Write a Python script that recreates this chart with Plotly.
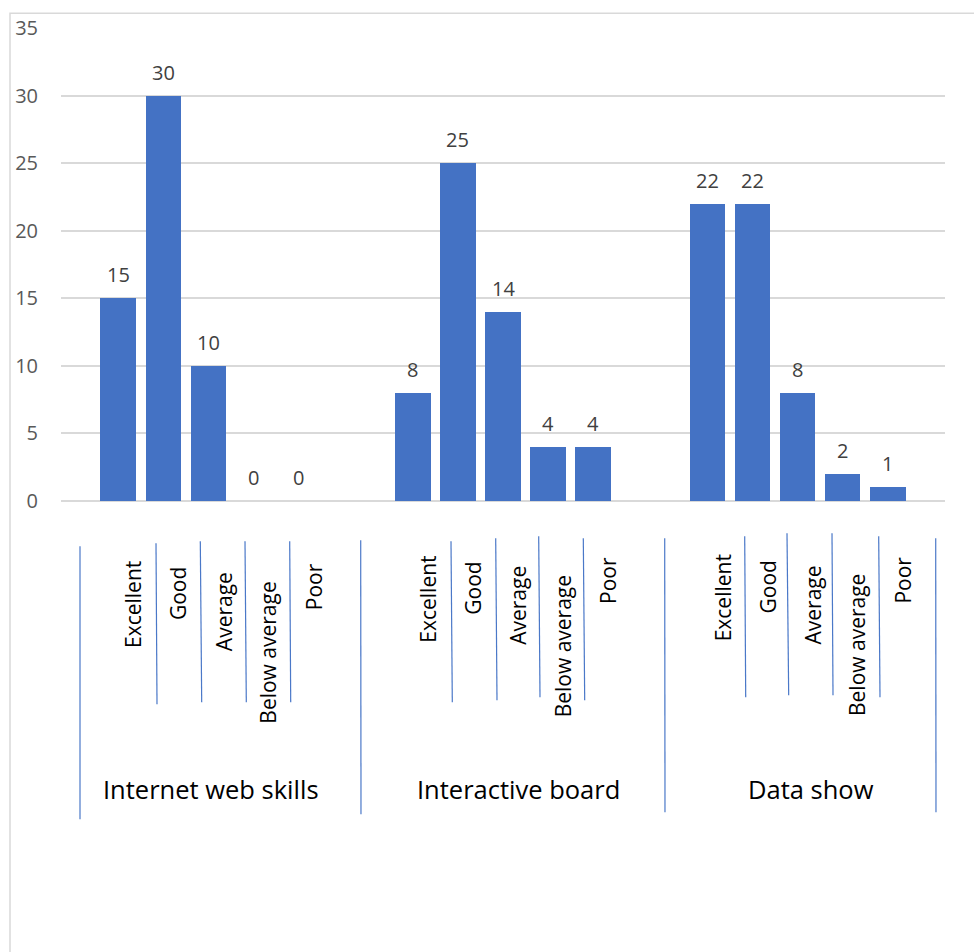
import plotly.graph_objects as go

# ---------------- data ----------------
groups = ["Internet web skills", "Interactive board", "Data show"]
ratings = ["Excellent", "Good", "Average", "Below average", "Poor"]
internet_web_skills = [15, 30, 10, 0, 0]
interactive_board = [8, 25, 14, 4, 4]
data_show = [22, 22, 8, 2, 1]
series = [internet_web_skills, interactive_board, data_show]
y_ticks = [0, 5, 10, 15, 20, 25, 30, 35]

# ---------------- layout helpers ----------------
W, H = 974, 952
PL, PR, PT, PB = 61, 945, 27.7, 500.7
GROUP_STEP = 6.54
BAR_BLUE = "#4472C4"
FONT = "Open Sans, Noto Sans, Liberation Sans, sans-serif"


def px_x(x):
    return (x - PL) / (PR - PL)


def px_y(y):
    return (PB - y) / (PB - PT)


xs, ys = [], []
for g, vals in enumerate(series):
    for i, v in enumerate(vals):
        xs.append(g * GROUP_STEP + i)
        ys.append(v)

fig = go.Figure()
fig.add_trace(go.Bar(
    x=xs, y=ys, width=0.787,
    marker=dict(color=BAR_BLUE, line=dict(width=0)),
    hoverinfo="skip", showlegend=False,
))

annotations = []
# data labels
for x, v in zip(xs, ys):
    annotations.append(dict(
        x=x, y=v, xref="x", yref="y", text=str(v), showarrow=False,
        yanchor="bottom", yshift=8,
        font=dict(family=FONT, size=20, color="#404040"),
    ))

# rotated category labels (layout offsets only)
label_top_px = [553, 559, 564, 573, 555]
group_shift_px = [6, 0, -1]
for g in range(len(groups)):
    for i, r in enumerate(ratings):
        annotations.append(dict(
            x=g * GROUP_STEP + i, xref="x", xshift=15,
            y=px_y(label_top_px[i] + group_shift_px[g]), yref="paper",
            yanchor="top", xanchor="center",
            text=r, textangle=-90, showarrow=False,
            font=dict(family=FONT, size=21, color="#000000"),
        ))

# group labels
group_label_xshift = [3, 15, 13]
for g, name in enumerate(groups):
    annotations.append(dict(
        x=g * GROUP_STEP + 2, xref="x", xshift=group_label_xshift[g],
        y=px_y(789), yref="paper", yanchor="middle",
        text=name, showarrow=False,
        font=dict(family=FONT, size=25.5, color="#000000"),
    ))

# hand-drawn separator lines (decoration, pixel positions)
separators = [
    (80, 546, 80, 819), (156, 543, 157, 704), (200.3, 541, 201.7, 702),
    (245, 541, 246.3, 702), (289.7, 541, 290.7, 702), (360.7, 540, 361, 814),
    (451, 541, 452.3, 702), (495.7, 538, 497, 700), (538.7, 536, 540, 697),
    (583.3, 538, 584.7, 700), (664.7, 538, 665, 812),
    (744.7, 536, 745.7, 697), (787, 533, 788.7, 695), (832, 533, 833, 695),
    (878.7, 536, 880, 697), (935.7, 538, 936, 812),
]
shapes = []
for (x0, y0, x1, y1) in separators:
    shapes.append(dict(
        type="line", xref="paper", yref="paper",
        x0=px_x(x0), y0=px_y(y0), x1=px_x(x1), y1=px_y(y1),
        line=dict(color="#4A78C8", width=1.2),
    ))
# chart border
shapes.append(dict(
    type="rect", xref="paper", yref="paper",
    x0=px_x(10), y0=px_y(990), x1=px_x(1000), y1=px_y(13),
    line=dict(color="#D9D9D9", width=1.5), fillcolor="rgba(0,0,0,0)",
))

fig.update_layout(
    width=W, height=H,
    margin=dict(l=PL, r=W - PR, t=PT, b=H - PB, pad=0),
    paper_bgcolor="white", plot_bgcolor="white",
    bargap=0,
    xaxis=dict(range=[-1.27, 2 * GROUP_STEP + 4 + 1.27], showticklabels=False,
               showgrid=False, zeroline=False, showline=False, ticks=""),
    yaxis=dict(range=[0, 35], tickvals=y_ticks, ticktext=[str(t) for t in y_ticks],
               showgrid=True, gridcolor="#D9D9D9", gridwidth=1.5,
               zeroline=True, zerolinecolor="#D9D9D9", zerolinewidth=1.5,
               showline=False, ticks="", ticklabelstandoff=22,
               tickfont=dict(family=FONT, size=20, color="#595959")),
    annotations=annotations,
    shapes=shapes,
)

fig.write_html("out.html")
